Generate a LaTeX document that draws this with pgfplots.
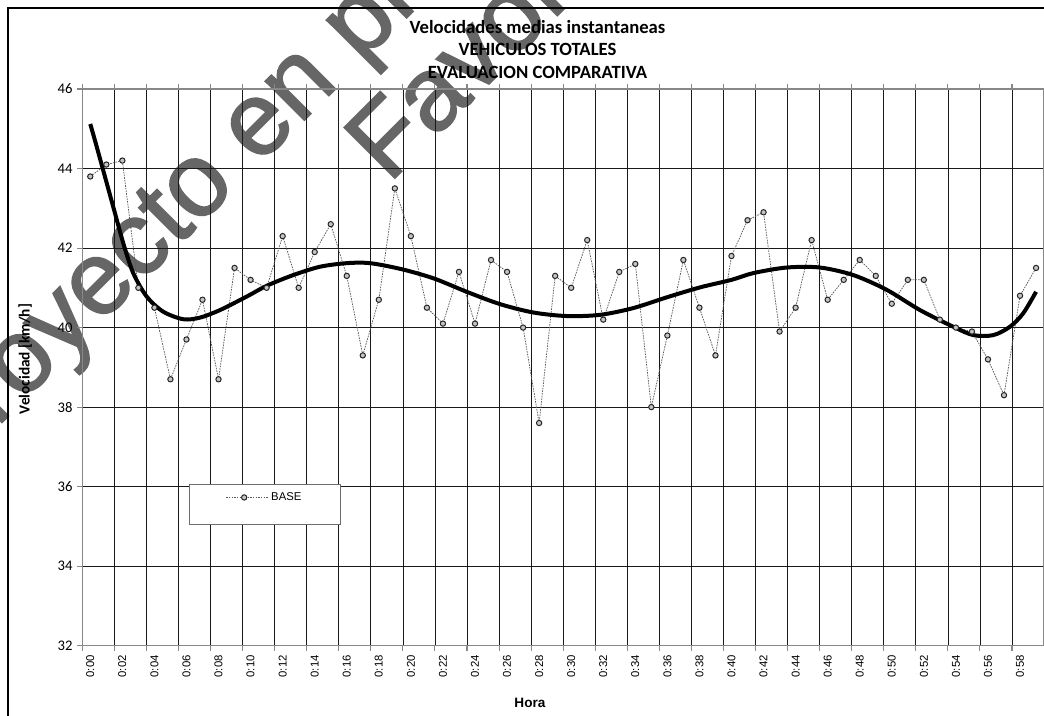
\documentclass[border=0pt]{standalone}
\usepackage{fontspec}
\setmainfont{Carlito}
\newfontfamily\arialf{Liberation Sans}
\newfontfamily\wmfont[FakeBold=1.6]{Liberation Sans}
\usepackage{pgfplots}
\pgfplotsset{compat=1.18}
\definecolor{wmgray}{HTML}{666666}
\definecolor{axgray}{HTML}{888888}
\definecolor{dgray}{HTML}{5A5A5A}
\definecolor{mfill}{HTML}{C4C4C4}
\begin{document}
\begin{tikzpicture}
\path[use as bounding box] (0pt,0pt) rectangle (783pt,536.25pt);
\clip (0pt,0pt) rectangle (783pt,536.25pt);
% watermark
\node[rotate=45, anchor=base west, text=wmgray, inner sep=0pt, font=\wmfont\fontsize{78}{78}\selectfont] at (-39.3pt,178.7pt) {Proyecto en pr};
\node[rotate=45, anchor=base west, text=wmgray, inner sep=0pt, font=\wmfont\fontsize{78}{78}\selectfont] at (291.5pt,398pt) {Favor};
% outer frame
\draw[line width=1.1pt] (6pt,-5pt) -- (6pt,530.25pt) -- (790pt,530.25pt);
\begin{axis}[
  at={(61.7pt,52pt)}, anchor=south west,
  width=721.35pt, height=417.5pt, scale only axis,
  xmin=-0.5, xmax=59.5, ymin=32, ymax=46,
  ytick={32,34,...,46},
  xtick={0,2,...,58},
  xticklabels={0:00,0:02,0:04,0:06,0:08,0:10,0:12,0:14,0:16,0:18,0:20,0:22,0:24,0:26,0:28,0:30,0:32,0:34,0:36,0:38,0:40,0:42,0:44,0:46,0:48,0:50,0:52,0:54,0:56,0:58},
  minor xtick={-0.5,1.5,...,57.5},
  xminorgrids=true, xmajorgrids=false, ymajorgrids=true,
  major grid style={black!90, dash pattern=on 1pt off 0.5pt, line width=0.55pt},
  minor grid style={black!90, dash pattern=on 1pt off 0.5pt, line width=0.55pt},
  tick align=outside,
  major tick length=3.75pt, minor tick length=3.75pt,
  tick style={axgray, line width=0.8pt},
  major x tick style={draw=none},
  axis line style={axgray, line width=1.1pt},
  /pgf/number format/assume math mode=true,
  yticklabel style={font=\fontsize{11}{13}\selectfont},
  xticklabel style={rotate=90, anchor=east, font=\arialf\fontsize{8.5}{10}\selectfont},
  title={Velocidades medias instantaneas\\VEHICULOS TOTALES\\EVALUACION COMPARATIVA},
  title style={at={(axis description cs:0.4733,1.0569)}, anchor=center, align=center, font=\bfseries\fontsize{14}{16.9}\selectfont},
  ylabel={Velocidad [km/h]},
  ylabel style={at={(axis description cs:-0.0595,0.515)}, anchor=center, font=\bfseries\fontsize{11.5}{13}\selectfont},
  xlabel={Hora},
  xlabel style={at={(axis description cs:0.4655,-0.1025)}, anchor=center, font=\arialf\bfseries\fontsize{10.2}{12}\selectfont},
  legend image code/.code={\draw[mark repeat=2,mark phase=2,#1] plot coordinates {(0pt,0pt) (13.5pt,0pt) (31.5pt,0pt)};},
  legend style={at={(axis description cs:0.111,0.2905)}, anchor=north west, draw=axgray!80!black, line width=0.8pt, fill=white, inner xsep=27.2pt, inner ysep=4pt, row sep=2pt, font=\arialf\fontsize{8.5}{10}\selectfont},
]
\addplot[dgray, line width=0.55pt, dash pattern=on 1.2pt off 0.8pt, mark=*, mark size=2pt, mark options={solid, fill=mfill, draw=black!85, line width=0.75pt}]
coordinates {
(0,43.8) (1,44.1) (2,44.2) (3,41.0) (4,40.5) (5,38.7) (6,39.7) (7,40.7) (8,38.7) (9,41.5)
(10,41.2) (11,41.0) (12,42.3) (13,41.0) (14,41.9) (15,42.6) (16,41.3) (17,39.3) (18,40.7) (19,43.5)
(20,42.3) (21,40.5) (22,40.1) (23,41.4) (24,40.1) (25,41.7) (26,41.4) (27,40.0) (28,37.6) (29,41.3)
(30,41.0) (31,42.2) (32,40.2) (33,41.4) (34,41.6) (35,38.0) (36,39.8) (37,41.7) (38,40.5) (39,39.3)
(40,41.8) (41,42.7) (42,42.9) (43,39.9) (44,40.5) (45,42.2) (46,40.7) (47,41.2) (48,41.7) (49,41.3)
(50,40.6) (51,41.2) (52,41.2) (53,40.2) (54,40.0) (55,39.9) (56,39.2) (57,38.3) (58,40.8) (59,41.5)
};
\addlegendentry{BASE}
\addlegendimage{empty legend}
\addlegendentry{\rule{0pt}{3pt}}
\addplot[black, line width=3pt, smooth, forget plot] coordinates {
(0,45.12) (0.4,44.55) (1.43,43.04) (2.06,42.12) (2.68,41.37) (3.52,40.78) (4.55,40.40) (5.8,40.21) (6.84,40.25) (8.09,40.44) (9.76,40.78) (11,41.05) (12.66,41.32) (14.33,41.53) (16,41.62) (17.45,41.62) (19.4,41.47) (21.4,41.24) (23.48,40.90) (25.56,40.59) (27.63,40.38) (29.72,40.29) (31.8,40.32) (33.87,40.49) (35.96,40.76) (38.03,41.01) (40,41.20) (41.36,41.37) (43.44,41.51) (45.52,41.51) (47.6,41.32) (49.68,40.95) (51.76,40.44) (53.84,40.02) (55.09,39.81) (56.33,39.81) (57.37,40.02) (58.2,40.36) (59,40.90)
};
\end{axis}
\end{tikzpicture}
\end{document}
